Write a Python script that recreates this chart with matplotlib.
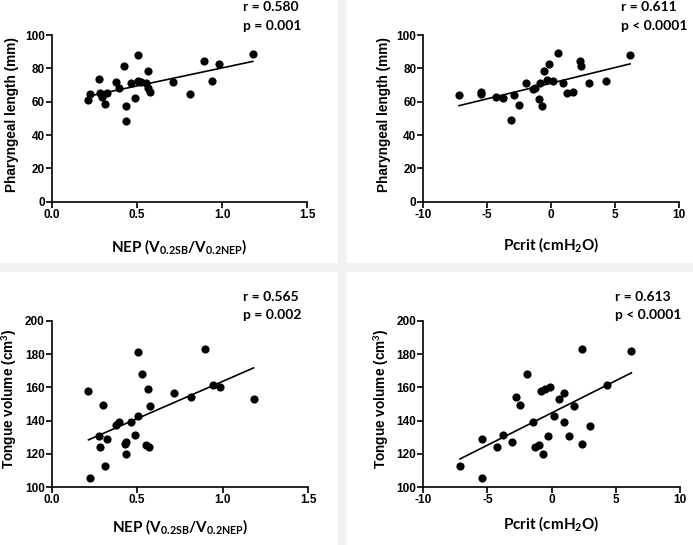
import numpy as np
import matplotlib
matplotlib.use("Agg")
import matplotlib.pyplot as plt
from matplotlib.patches import Rectangle

plt.rcParams['mathtext.fontset'] = 'custom'
plt.rcParams['mathtext.rm'] = 'Lato:bold'
plt.rcParams['mathtext.bf'] = 'Lato:bold'
plt.rcParams['mathtext.it'] = 'Lato:bold'

# NEP ratio (same subjects in both left panels)
nep = [0.215, 0.225, 0.276, 0.283, 0.298, 0.31, 0.326, 0.376, 0.393, 0.426, 0.434, 0.437, 0.466, 0.486,
       0.504, 0.505, 0.525, 0.553, 0.565, 0.568, 0.575, 0.713, 0.814, 0.894, 0.941, 0.984, 1.18]
phar_nep = [61.0, 64.6, 73.4, 65.4, 63.0, 58.4, 65.4, 71.6, 68.4, 81.6, 57.4, 48.6, 71.4, 62.0,
            87.8, 72.4, 71.6, 71.0, 78.2, 68.4, 65.6, 71.8, 64.4, 84.2, 72.6, 82.4, 88.8]
tongue_nep = [158.0, 105.4, 131.0, 124.0, 149.4, 112.8, 129.0, 137.2, 139.0, 126.0, 120.0, 127.0, 139.0, 131.2,
              181.4, 142.8, 168.2, 125.4, 158.8, 124.4, 149.0, 156.8, 154.0, 183.2, 161.4, 160.4, 153.2]

# Pcrit vs pharyngeal length
pcrit_a = [-7.21, -5.52, -5.49, -4.32, -3.8, -3.15, -2.89, -2.5, -2.0, -1.45, -1.27, -0.94, -0.88, -0.73,
           -0.55, -0.36, -0.2, 0.16, 0.55, 0.94, 1.25, 1.67, 2.24, 2.32, 2.97, 4.27, 6.15]
phar_pcrit = [63.8, 65.8, 64.4, 62.6, 62.2, 48.8, 64.0, 58.0, 71.4, 67.8, 68.0, 61.4, 71.0, 57.4,
              78.2, 73.0, 82.4, 72.6, 89.0, 71.4, 65.4, 65.6, 84.4, 81.4, 71.4, 72.4, 87.8]

# Pcrit vs tongue volume
pcrit_b = [-7.14, -5.45, -5.43, -4.23, -3.76, -3.09, -2.8, -2.44, -1.94, -1.45, -1.27, -0.96, -0.85, -0.65,
           -0.52, -0.26, -0.15, 0.21, 0.6, 0.99, 0.99, 1.33, 1.75, 2.35, 2.37, 2.99, 4.34, 6.21]
tongue_pcrit = [112.8, 129.2, 105.4, 124.2, 131.6, 127.2, 154.0, 149.6, 168.2, 139.2, 124.4, 125.2, 158.0, 120.2,
                158.8, 130.8, 160.4, 142.8, 153.0, 156.8, 139.0, 130.8, 149.0, 183.0, 126.0, 136.8, 161.4, 181.8]

stats = [("r = 0.580", "p = 0.001"), ("r = 0.611", "p < 0.0001"),
         ("r = 0.565", "p = 0.002"), ("r = 0.613", "p < 0.0001")]

nep_label = r'NEP (V$_{\mathrm{0.2SB}}$/V$_{\mathrm{0.2NEP}}$)'
pcrit_label = r'Pcrit (cmH$_{\mathrm{2}}$O)'
nep_ticks = [0, 0.5, 1.0, 1.5]
nep_ticklabels = ['0.0', '0.5', '1.0', '1.5']
pcrit_ticks = [-10, -5, 0, 5, 10]
pcrit_ticklabels = ['-10', '-5', '0', '5', '10']

W, H = 693, 545
fig = plt.figure(figsize=(W / 100, H / 100), dpi=100)

# light grey gutters between the four tiles
fig.add_artist(Rectangle((338 / W, 0), 9 / W, 1, transform=fig.transFigure, color='#f2f2f2', lw=0, zorder=0))
fig.add_artist(Rectangle((0, 1 - 272 / H), 1, 9 / H, transform=fig.transFigure, color='#f2f2f2', lw=0, zorder=0))


def px_axes(left, right, top, bottom):
    return fig.add_axes([left / W, 1 - bottom / H, (right - left) / W, (bottom - top) / H])


panels = [
    (px_axes(51.7, 307.3, 35, 201.7), nep, phar_nep, (0, 1.5), nep_ticks, nep_ticklabels,
     (0, 100), range(0, 101, 20), 'Pharyngeal length (mm)', nep_label, 0.52, -0.21),
    (px_axes(423.3, 679.3, 35, 201.7), pcrit_a, phar_pcrit, (-10, 10), pcrit_ticks, pcrit_ticklabels,
     (0, 100), range(0, 101, 20), 'Pharyngeal length (mm)', pcrit_label, 0.52, -0.20),
    (px_axes(51.7, 308.3, 320.7, 487.3), nep, tongue_nep, (0, 1.5), nep_ticks, nep_ticklabels,
     (100, 200), range(100, 201, 20), r'Tongue volume (cm$^{\mathrm{3}}$)', nep_label, 0.53, -0.178),
    (px_axes(423.3, 680, 320.7, 487.3), pcrit_b, tongue_pcrit, (-10, 10), pcrit_ticks, pcrit_ticklabels,
     (100, 200), range(100, 201, 20), r'Tongue volume (cm$^{\mathrm{3}}$)', pcrit_label, 0.53, -0.16),
]

for ax, x, y, xlim, xt, xtl, ylim, yt, ylab, xlab, ylab_y, xlab_y in panels:
    ax.set_facecolor('none')
    x = np.array(x)
    y = np.array(y)
    ax.plot(x, y, 'o', color='black', ms=5.9, mew=0, clip_on=False)
    k, b = np.polyfit(x, y, 1)
    xs = np.array([x.min(), x.max()])
    ax.plot(xs, k * xs + b, color='black', lw=1.2)

    ax.set_xlim(*xlim)
    ax.set_ylim(*ylim)
    ax.set_xticks(xt)
    ax.set_xticklabels(xtl)
    ax.set_yticks(list(yt))
    for s in ['top', 'right']:
        ax.spines[s].set_visible(False)
    for s in ['left', 'bottom']:
        ax.spines[s].set_linewidth(1.2)
    ax.tick_params(direction='out', length=4, width=1.2, pad=1)
    for lab in ax.get_xticklabels() + ax.get_yticklabels():
        lab.set_fontfamily('Liberation Sans')
        lab.set_fontweight('bold')
        lab.set_fontsize(8.5)

    ax.set_ylabel(ylab, fontfamily='Liberation Sans', fontweight='bold', fontsize=9.8)
    ax.yaxis.set_label_coords(-0.126, ylab_y)
    ax.set_xlabel(xlab, fontfamily='Lato', fontweight='bold', fontsize=11)
    ax.xaxis.set_label_coords(0.5, xlab_y)

# r / p annotations, positioned in figure pixels
ann_pos = [(243, 7, 26), (621, 7, 26), (243, 297, 315), (615, 297, 315)]
for (xp, yr, yp), (r_txt, p_txt) in zip(ann_pos, stats):
    fig.text(xp / W, 1 - yr / H, r_txt, fontfamily='Lato', fontweight='bold', fontsize=10, va='center', ha='left')
    fig.text(xp / W, 1 - yp / H, p_txt, fontfamily='Lato', fontweight='bold', fontsize=10, va='center', ha='left')

fig.savefig('out.png', dpi=100)
